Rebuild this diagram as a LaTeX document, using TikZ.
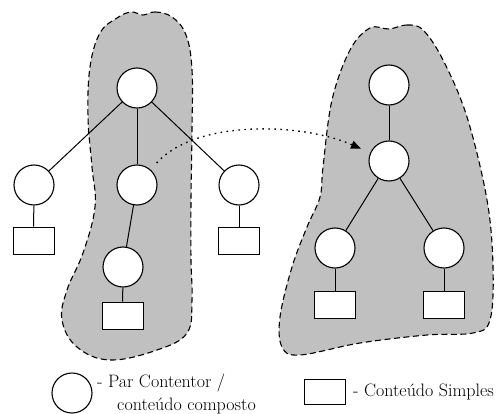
\documentclass[tikz,border=0pt]{standalone}
\usetikzlibrary{arrows.meta}
\definecolor{blobgray}{RGB}{192,192,192}
\tikzset{
  blob/.style={draw=black, fill=blobgray, line width=1.1pt, dash pattern=on 6pt off 3.5pt},
  pair/.style={circle, draw=black, fill=white, line width=1.1pt, minimum size=40pt, inner sep=0pt},
  leaf/.style={rectangle, draw=black, fill=white, line width=0.9pt, minimum width=41pt, minimum height=27pt, inner sep=0pt},
  edge/.style={line width=1pt},
  link/.style={line width=1.3pt, dash pattern=on 1.6pt off 4.4pt, -{Triangle[length=10pt,width=8pt]}, shorten <=9pt, shorten >=10pt},
  legendtext/.style={anchor=west, inner sep=0pt, font=\fontsize{18}{20}\selectfont}
}
\begin{document}
\begin{tikzpicture}[x=1pt, y=-1pt]
\useasboundingbox (0,0) rectangle (497,414);

% shaded regions
\draw[blob] plot[smooth cycle, tension=0.65] coordinates {
  (143,15) (155,12) (172,17) (186,35) (192,70) (192,130) (191,200) (191,260)
  (192,300) (187,333) (157,350) (110,360) (77,347) (62,320) (67,290) (83,253)
  (95,207) (92,167) (88,117) (90,67) (100,33) (117,18) (131,12)};
\draw[blob] plot[smooth cycle, tension=0.6] coordinates {
  (389,29) (407,25) (423,30) (443,60) (467,117) (487,200) (493,267) (490,320)
  (473,333) (427,335) (360,343) (300,355) (282,347) (280,317) (292,267) (307,227)
  (320,197) (323,167) (332,100) (350,50) (370,28)};

% left tree
\node[pair] (lr) at (137,88) {};
\node[pair] (la) at (34,185) {};
\node[pair] (lb) at (137,185) {};
\node[pair] (lc) at (239,185) {};
\node[pair] (ld) at (123,267) {};
\node[leaf] (lsa) at (33.5,240.5) {};
\node[leaf] (lsc) at (239,240.5) {};
\node[leaf] (lsd) at (122.5,315.5) {};
\draw[edge] (lr) -- (la);
\draw[edge] (lr) -- (lb);
\draw[edge] (lr) -- (lc);
\draw[edge] (lb) -- (ld);
\draw[edge] (la) -- (lsa);
\draw[edge] (lc) -- (lsc);
\draw[edge] (ld) -- (lsd);

% right tree
\node[pair] (rr) at (389,85) {};
\node[pair] (rb) at (389,161) {};
\node[pair] (ra) at (335,248) {};
\node[pair] (rc) at (444,248) {};
\node[leaf] (rsa) at (335,305) {};
\node[leaf] (rsc) at (444,305) {};
\draw[edge] (rr) -- (rb);
\draw[edge] (rb) -- (ra);
\draw[edge] (rb) -- (rc);
\draw[edge] (ra) -- (rsa);
\draw[edge] (rc) -- (rsc);

% reference link between the two regions
\draw[link] (lb) .. controls (195,120) and (300,122) .. (rb);

% legend
\node[pair] (kc) at (72,393) {};
\node[legendtext] (kt1) at (97,383) {- Par Contentor /};
\node[legendtext] (kt2) at (117,406) {conteúdo composto};
\node[leaf, minimum height=25pt] (ks) at (324.5,391.5) {};
\node[legendtext] (kt3) at (353,392) {- Conteúdo Simples};
\end{tikzpicture}
\end{document}
